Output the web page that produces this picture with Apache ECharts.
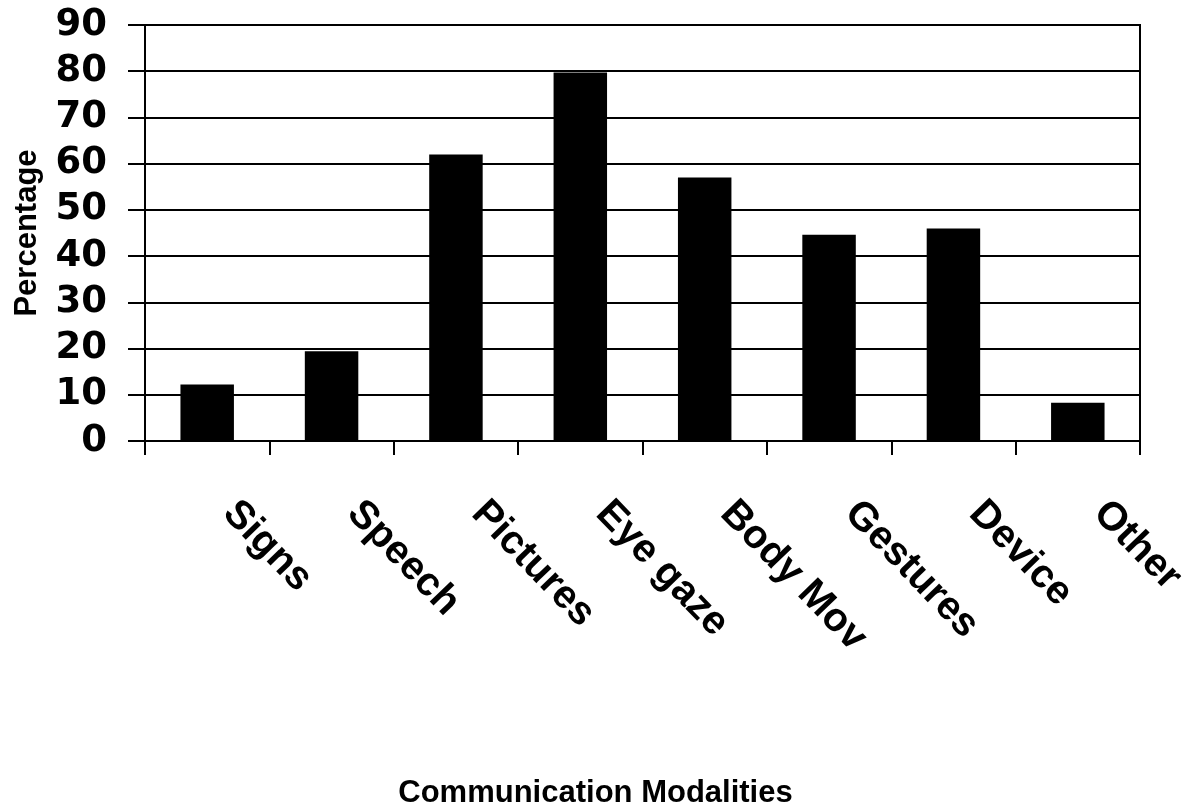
<!DOCTYPE html>
<html>
<head>
<meta charset="utf-8">
<script src="https://cdn.jsdelivr.net/npm/echarts@6/dist/echarts.min.js"></script>
<style>
html,body{margin:0;padding:0;background:#fff;}
#chart{width:1199px;height:811px;}
</style>
</head>
<body>
<div id="chart"></div>
<script>
const categories = ['Signs','Speech','Pictures','Eye gaze','Body Mov','Gestures','Device','Other'];
const percentages = [12.2, 19.4, 62, 79.7, 57, 44.6, 46, 8.3];
const yTicks = {min: 0, max: 90, interval: 10};
const xTitle = 'Communication Modalities';
const yTitle = 'Percentage';

const font = '"Liberation Sans", Arial, sans-serif';
const chart = echarts.init(document.getElementById('chart'));
chart.setOption({
  backgroundColor: '#fff',
  animation: false,
  grid: {left: 145, right: 59, top: 25, bottom: 370, containLabel: false, outerBoundsMode: 'none',
         show: true, borderColor: '#000', borderWidth: 2, backgroundColor: 'transparent'},
  xAxis: {
    type: 'category',
    data: categories,
    name: xTitle,
    nameLocation: 'middle',
    nameGap: 337,
    nameTextStyle: {fontFamily: font, fontWeight: 'bold', fontSize: 31, color: '#000', padding: [0, 94, 0, 0]},
    axisLine: {lineStyle: {color: '#000', width: 2}},
    axisTick: {show: true, length: 14, lineStyle: {color: '#000', width: 2}},
    axisLabel: {rotate: -46, margin: 43, padding: [0, 0, 0, 32], fontFamily: font, fontWeight: 'bold', fontSize: 40, color: '#000', interval: 0}
  },
  yAxis: {
    type: 'value',
    min: yTicks.min, max: yTicks.max, interval: yTicks.interval,
    name: yTitle,
    nameLocation: 'middle',
    nameGap: 102,
    nameTextStyle: {fontFamily: font, fontWeight: 'bold', fontSize: 31, color: '#000'},
    axisLine: {show: true, lineStyle: {color: '#000', width: 2}},
    axisTick: {show: true, length: 17, lineStyle: {color: '#000', width: 2}},
    axisLabel: {margin: 38, fontFamily: '"DejaVu Sans", sans-serif', fontWeight: 'bold', fontSize: 37, color: '#000'},
    splitLine: {show: true, lineStyle: {color: '#000', width: 2}}
  },
  series: [{
    type: 'bar',
    data: percentages,
    barWidth: '43%',
    itemStyle: {color: '#000'}
  }]
});
</script>
</body>
</html>
